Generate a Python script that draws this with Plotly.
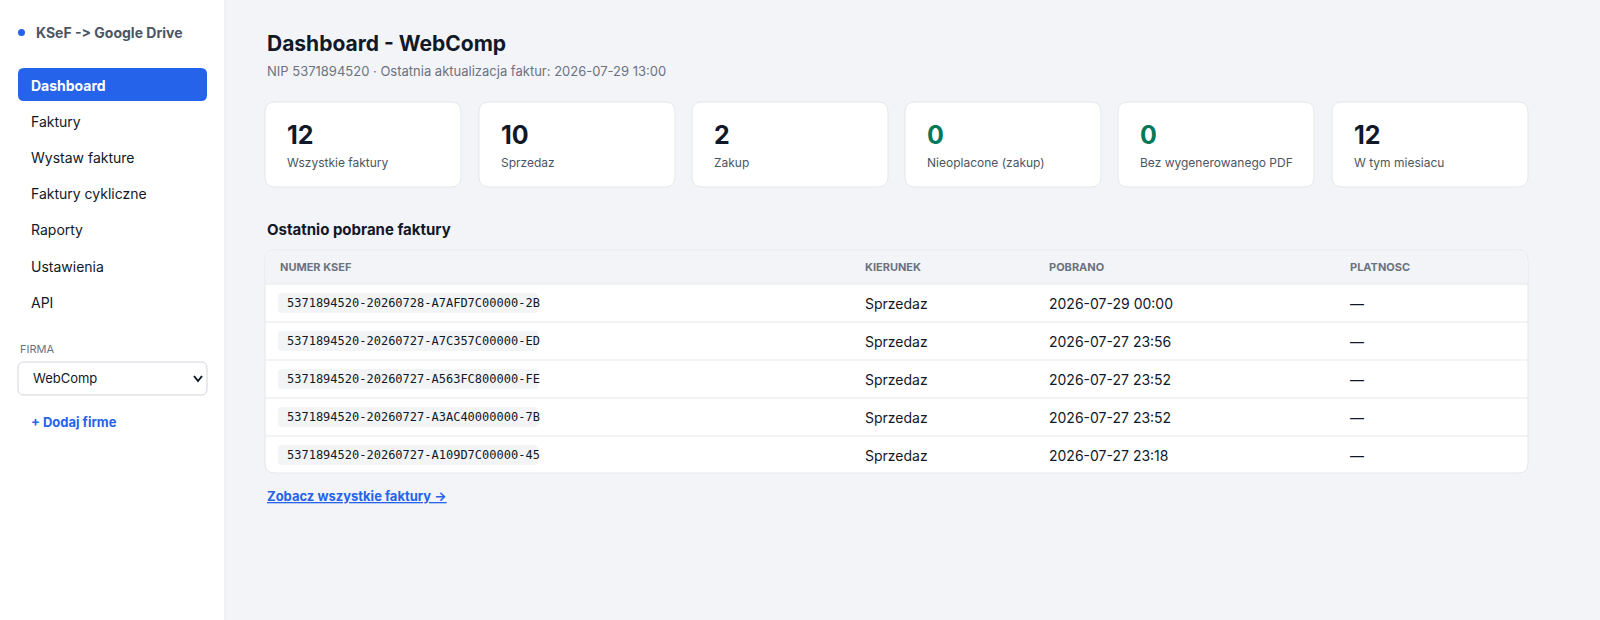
import plotly.graph_objects as go

# data
menu_items = ["Faktury", "Wystaw fakture", "Faktury cykliczne", "Raporty", "Ustawienia", "API"]
card_values = ["12", "10", "2", "0", "0", "12"]
card_labels = ["Wszystkie faktury", "Sprzedaz", "Zakup", "Nieoplacone (zakup)",
               "Bez wygenerowanego PDF", "W tym miesiacu"]
card_colors = ["#111827", "#111827", "#111827", "#047857", "#047857", "#111827"]
table_headers = ["NUMER KSEF", "KIERUNEK", "POBRANO", "PLATNOSC"]
ksef_numbers = [
    "5371894520-20260728-A7AFD7C00000-2B",
    "5371894520-20260727-A7C357C00000-ED",
    "5371894520-20260727-A563FC800000-FE",
    "5371894520-20260727-A3AC40000000-7B",
    "5371894520-20260727-A109D7C00000-45",
]
directions = ["Sprzedaz"] * 5
downloaded = ["2026-07-29 00:00", "2026-07-27 23:56", "2026-07-27 23:52",
              "2026-07-27 23:52", "2026-07-27 23:18"]
payments = ["—"] * 5

FONT = "Inter"
MONO = "DejaVu Sans Mono"
BLUE = "#2563eb"

shapes = []
annots = []


def rrect(x0, y0, x1, y1, r, fill, line=None):
    p = (f"M{x0+r},{y0} L{x1-r},{y0} Q{x1},{y0} {x1},{y0+r} L{x1},{y1-r} Q{x1},{y1} {x1-r},{y1} "
         f"L{x0+r},{y1} Q{x0},{y1} {x0},{y1-r} L{x0},{y0+r} Q{x0},{y0} {x0+r},{y0} Z")
    shapes.append(dict(type="path", path=p, fillcolor=fill, layer="below",
                       line=dict(color=line or fill, width=1 if line else 0)))


def text(x, y, s, size=14, color="#111827", bold=False, family=FONT, anchor="left"):
    if bold:
        s = f"<b>{s}</b>"
    annots.append(dict(x=x, y=y, text=s, showarrow=False, xanchor=anchor, yanchor="middle",
                       font=dict(size=size, color=color, family=family)))


# sidebar
shapes.append(dict(type="rect", x0=0, y0=0, x1=225, y1=620, fillcolor="white", layer="below",
                   line=dict(width=0)))
shapes.append(dict(type="line", x0=225, y0=0, x1=225, y1=620, line=dict(color="#e5e7eb", width=1)))
shapes.append(dict(type="circle", x0=18, y0=29, x1=25, y1=36, fillcolor=BLUE, line=dict(width=0)))
text(34, 32, "KSeF -\u200c> Google Drive", 14, "#4b5563", True)
rrect(18, 68, 207, 101, 6, BLUE)
text(29, 85, "Dashboard", 14, "white", True)
for i, item in enumerate(menu_items):
    text(29, 121 + i * 36.3, item, 14, "#111827")
text(18, 349, "FIRMA", 11, "#6b7280")
rrect(18, 362, 207, 395, 6, "white", "#d1d5db")
text(31, 378, "WebComp", 13, "#111827")
shapes.append(dict(type="path", path="M194,376 L198,381 L202,376", line=dict(color="#111827", width=2)))
text(29, 422, "+ Dodaj firme", 13, BLUE, True)

# header
text(265, 43, "Dashboard - WebComp", 21, "#111827", True)
text(265, 71, "NIP 5371894520 · Ostatnia aktualizacja faktur: 2026-07-29 13:00", 13, "#6b7280")

# cards
card_x = [265, 479, 692, 905, 1118, 1332]
for x, v, lab, c in zip(card_x, card_values, card_labels, card_colors):
    rrect(x, 102, x + 196, 187, 10, "white", "#e5e7eb")
    text(x + 20, 135, v, 25, c, True)
    text(x + 20, 162, lab, 12, "#4b5563")

# table
text(265, 229, "Ostatnio pobrane faktury", 15, "#111827", True)
rrect(265, 250, 1528, 473, 10, "white", "#e5e7eb")
shapes.append(dict(type="path", layer="below", fillcolor="#f3f4f8", line=dict(width=0),
                   path="M266,284 L266,260 Q266,251 275,251 L1518,251 Q1527,251 1527,260 L1527,284 Z"))
shapes.append(dict(type="line", x0=265, y0=284, x1=1528, y1=284, line=dict(color="#e5e7eb", width=1)))
col_x = [278, 863, 1047, 1348]
for x, h in zip(col_x, table_headers):
    text(x, 267, h, 11, "#6b7280", True)
for i in range(len(ksef_numbers)):
    yc = 303 + i * 38
    if i > 0:
        shapes.append(dict(type="line", x0=265, y0=yc - 19, x1=1528, y1=yc - 19,
                           line=dict(color="#e5e7eb", width=1)))
    rrect(278, yc - 10, 538, yc + 10, 4, "#f3f4f6")
    text(285, yc, ksef_numbers[i], 12, "#111827", family=MONO)
    text(col_x[1], yc, directions[i], 14, "#111827")
    text(col_x[2], yc, downloaded[i], 14, "#111827")
    text(col_x[3], yc, payments[i], 14, "#111827")

text(265, 496, "<u>Zobacz wszystkie faktury →</u>", 13, BLUE, True)

fig = go.Figure()
fig.update_layout(
    width=1600, height=620, margin=dict(l=0, r=0, t=0, b=0),
    paper_bgcolor="#f3f4f8", plot_bgcolor="#f3f4f8",
    xaxis=dict(range=[0, 1600], visible=False, fixedrange=True),
    yaxis=dict(range=[620, 0], visible=False, fixedrange=True),
    shapes=shapes, annotations=annots, showlegend=False,
)
fig.write_html("out.html", config={"displayModeBar": False},
               post_script="document.body.style.margin='0';document.body.style.overflow='hidden';")
